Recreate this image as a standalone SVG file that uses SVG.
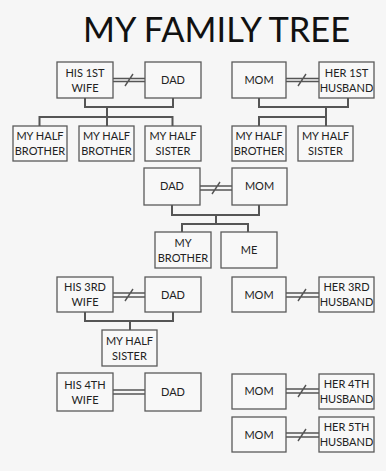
<svg xmlns="http://www.w3.org/2000/svg" width="386" height="471" viewBox="0 0 386 471">
<style>
.bg{fill:#f6f6f6}
.box{fill:#f8f8f8;stroke:#5a5a5a;stroke-width:1.3}
.t{font-family:Lato,"Open Sans","Liberation Sans",sans-serif;font-size:11px;fill:#222;text-anchor:middle}
.title{font-family:Lato,"Open Sans","Liberation Sans",sans-serif;font-size:35px;fill:#111;text-anchor:middle}
.c{fill:none;stroke:#555;stroke-width:2}
.m{fill:none;stroke:#555;stroke-width:1.4}
</style>
<rect class="bg" x="0" y="0" width="386" height="471"/>
<text class="title" x="216.5" y="42" textLength="267" lengthAdjust="spacingAndGlyphs">MY FAMILY TREE</text>

<g id="connectors">
<path class="m" d="M113,78.5H145M113,81.5H145M125,86L133,74"/>
<path class="m" d="M286,78.5H319M286,81.5H319M298,86L306,74"/>
<path class="m" d="M200,186H232M200,190H232M212,194L220,182"/>
<path class="m" d="M113,293H145M113,297H145M125,301L133,289"/>
<path class="m" d="M286,293H319M286,297H319M298,301L306,289"/>
<path class="m" d="M113,390H145M113,394H145"/>
<path class="m" d="M286,389H319M286,393H319M298,397L306,385"/>
<path class="m" d="M286,433H319M286,437H319M298,441L306,429"/>
<path class="c" d="M85,98V107H173V98M107,107V126M39.5,126V117H172.5V126"/>
<path class="c" d="M259,98V107H348V98M326,107V126M259,126V117H326"/>
<path class="c" d="M172,205V215H259V205M216,215V224M182,232V224H248V232"/>
<path class="c" d="M85,312V321H173V312M130,321V330"/>
</g>

<g id="wife1"><rect class="box" x="57" y="62" width="56" height="36"/><text class="t" x="85" y="76.5">HIS 1ST</text><text class="t" x="85" y="91.5">WIFE</text></g>
<g id="dad1"><rect class="box" x="145" y="62" width="56" height="36"/><text class="t" x="173" y="84">DAD</text></g>
<g id="mom1"><rect class="box" x="232" y="62" width="54" height="36"/><text class="t" x="259" y="84">MOM</text></g>
<g id="husband1"><rect class="box" x="319" y="62" width="55" height="36"/><text class="t" x="346.5" y="76.5">HER 1ST</text><text class="t" x="346.5" y="91.5">HUSBAND</text></g>

<g id="halfbrother1"><rect class="box" x="13" y="126" width="54" height="35"/><text class="t" x="40" y="140">MY HALF</text><text class="t" x="40" y="155">BROTHER</text></g>
<g id="halfbrother2"><rect class="box" x="79" y="126" width="55" height="35"/><text class="t" x="106.5" y="140">MY HALF</text><text class="t" x="106.5" y="155">BROTHER</text></g>
<g id="halfsister1"><rect class="box" x="145" y="126" width="56" height="35"/><text class="t" x="173" y="140">MY HALF</text><text class="t" x="173" y="155">SISTER</text></g>
<g id="halfbrother3"><rect class="box" x="232" y="126" width="54" height="35"/><text class="t" x="259" y="140">MY HALF</text><text class="t" x="259" y="155">BROTHER</text></g>
<g id="halfsister2"><rect class="box" x="298" y="126" width="55" height="35"/><text class="t" x="325.5" y="140">MY HALF</text><text class="t" x="325.5" y="155">SISTER</text></g>

<g id="dad2"><rect class="box" x="144" y="168" width="56" height="37"/><text class="t" x="172" y="190">DAD</text></g>
<g id="mom2"><rect class="box" x="232" y="168" width="55" height="37"/><text class="t" x="259.5" y="190">MOM</text></g>
<g id="mybrother"><rect class="box" x="155" y="232" width="56" height="36"/><text class="t" x="183" y="246.5">MY</text><text class="t" x="183" y="261.5">BROTHER</text></g>
<g id="me"><rect class="box" x="221" y="232" width="56" height="36"/><text class="t" x="249" y="254">ME</text></g>

<g id="wife3"><rect class="box" x="57" y="277" width="56" height="35"/><text class="t" x="85" y="291">HIS 3RD</text><text class="t" x="85" y="306">WIFE</text></g>
<g id="dad3"><rect class="box" x="145" y="277" width="56" height="35"/><text class="t" x="173" y="298.5">DAD</text></g>
<g id="halfsister3"><rect class="box" x="102" y="330" width="55" height="36"/><text class="t" x="129.5" y="344.5">MY HALF</text><text class="t" x="129.5" y="359.5">SISTER</text></g>
<g id="mom3"><rect class="box" x="232" y="277" width="54" height="35"/><text class="t" x="259" y="298.5">MOM</text></g>
<g id="husband3"><rect class="box" x="319" y="277" width="55" height="35"/><text class="t" x="346.5" y="291">HER 3RD</text><text class="t" x="346.5" y="306">HUSBAND</text></g>

<g id="wife4"><rect class="box" x="57" y="373" width="56" height="38"/><text class="t" x="85" y="388.5">HIS 4TH</text><text class="t" x="85" y="403.5">WIFE</text></g>
<g id="dad4"><rect class="box" x="145" y="373" width="56" height="38"/><text class="t" x="173" y="395.5">DAD</text></g>
<g id="mom4"><rect class="box" x="232" y="374" width="54" height="35"/><text class="t" x="259" y="395">MOM</text></g>
<g id="husband4"><rect class="box" x="319" y="374" width="55" height="35"/><text class="t" x="346.5" y="388">HER 4TH</text><text class="t" x="346.5" y="403">HUSBAND</text></g>
<g id="mom5"><rect class="box" x="232" y="417" width="54" height="35"/><text class="t" x="259" y="438.5">MOM</text></g>
<g id="husband5"><rect class="box" x="319" y="417" width="55" height="35"/><text class="t" x="346.5" y="431">HER 5TH</text><text class="t" x="346.5" y="446">HUSBAND</text></g>
</svg>
